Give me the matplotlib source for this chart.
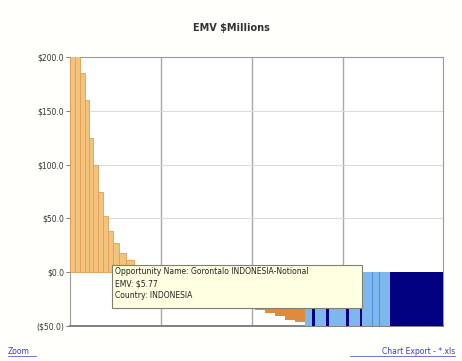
import matplotlib.pyplot as plt
from matplotlib.patches import Rectangle
from matplotlib.lines import Line2D

# Barras ordenadas por EMV: largura (unidades do eixo x) e valor ($M)
bar_widths = [5, 5, 5, 4, 4, 5, 5, 5, 5, 6, 7, 8, 9, 12, 35, 35,
              10, 10, 10, 10, 10, 10, 10, 10,
              7, 3, 11, 3, 17, 3, 11, 2, 10, 1, 6, 1, 10, 53]
bar_values = [260, 230, 185, 160, 125, 100, 75, 52, 38, 27, 18, 11, 6, 3, 1.5, 0.6,
              -5, -15, -28, -35, -38, -41, -44, -46,
              -60, -60, -60, -60, -60, -60, -60, -60, -60, -60, -60, -60, -60, -60]
bar_groups = ['pos'] * 16 + ['neg'] * 8 + \
             ['light', 'navy', 'light', 'navy', 'light', 'navy', 'light', 'navy',
              'light', 'mid', 'light', 'mid', 'light', 'navy']

y_ticks = [200, 150, 100, 50, 0, -50]
y_labels = ['$200.0', '$150.0', '$100.0', '$50.0', '$0.0', '($50.0)']

tooltip_lines = ['Opportunity Name: Gorontalo INDONESIA-Notional',
                 'EMV: $5.77',
                 'Country: INDONESIA']

colors = {'pos': '#F3C27C', 'neg': '#E08A3C', 'light': '#7DB7EE',
          'mid': '#4F8FD8', 'navy': '#000080'}
edges = {'pos': '#DDA058', 'neg': '#D9782A', 'light': '#7DB7EE',
         'mid': '#4F8FD8', 'navy': '#000080'}

PX = 91.0  # pixels por unidade do eixo x

fig = plt.figure(figsize=(4.62, 3.61), dpi=100)
fig.patch.set_facecolor('#FFFFFB')
ax = fig.add_axes([70 / 462, 35 / 361, 373 / 462, 269 / 361])

left = 0.0
for w, v, g in zip(bar_widths, bar_values, bar_groups):
    ax.bar(left, v, width=w / PX, align='edge', color=colors[g],
           edgecolor=edges[g], linewidth=0.6 if g == 'pos' else 0, zorder=3)
    left += w / PX

ax.set_xlim(0, 373 / PX)
ax.set_ylim(-50, 200)
ax.set_xticks([1, 2, 3])
ax.set_xticklabels([])
ax.tick_params(axis='x', length=0)
ax.set_yticks(y_ticks)
ax.set_yticklabels(y_labels, fontsize=5.5, color='#333333')
ax.tick_params(axis='y', length=3, width=0.6, color='#666666', pad=1)
ax.grid(True, axis='x', color='#A8A8B0', linewidth=1.0, zorder=1)
ax.grid(True, axis='y', color='#DCDCDC', linewidth=0.8, zorder=1)
for s in ax.spines.values():
    s.set_color('#9A9A9A')
    s.set_linewidth(0.8)
ax.spines['bottom'].set_linewidth(1.4)
ax.spines['bottom'].set_color('#808080')

fig.text(0.5, 1 - 28 / 361, 'EMV $Millions', ha='center', va='center',
         fontsize=7, fontweight='bold', color='#333333')

# tooltip
x0, y0, x1, y1 = 112, 265, 362, 308
fig.patches.append(Rectangle((x0 / 462, 1 - y1 / 361), (x1 - x0) / 462, (y1 - y0) / 361,
                             transform=fig.transFigure, facecolor='#FFFFE1',
                             edgecolor='#808070', linewidth=0.8, zorder=10))
for i, line in enumerate(tooltip_lines):
    fig.text((x0 + 3) / 462, 1 - (y0 + 6 + i * 12.5) / 361, line, ha='left', va='center',
             fontsize=5.5, color='#222222', zorder=11)

# links
link_color = '#3A3AD0'
fig.text(8 / 462, 1 - 352 / 361, 'Zoom', ha='left', va='center', fontsize=5.5, color=link_color)
fig.text(455 / 462, 1 - 352 / 361, 'Chart Export - *.xls', ha='right', va='center',
         fontsize=5.5, color=link_color)
fig.lines.append(Line2D([8 / 462, 36 / 462], [1 - 356 / 361] * 2, transform=fig.transFigure,
                        color=link_color, linewidth=0.5))
fig.lines.append(Line2D([350 / 462, 455 / 462], [1 - 356 / 361] * 2, transform=fig.transFigure,
                        color=link_color, linewidth=0.5))

fig.savefig('out.png', dpi=100, facecolor=fig.get_facecolor())
